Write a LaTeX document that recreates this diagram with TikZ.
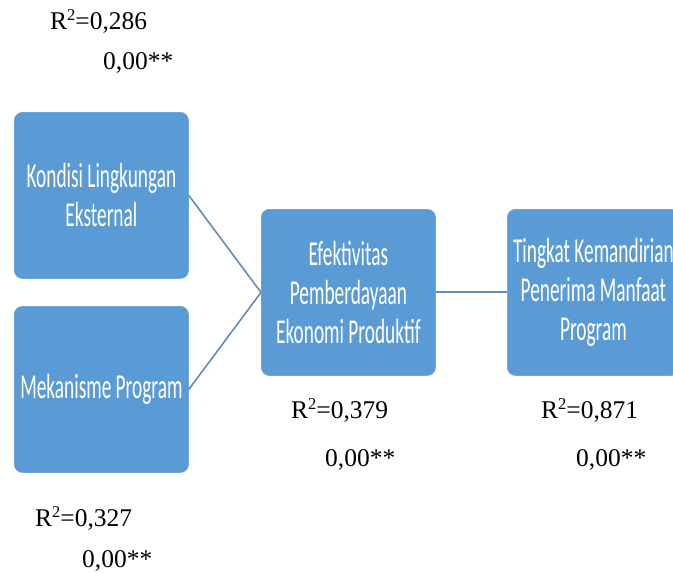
\documentclass[tikz,border=0pt]{standalone}
\usepackage{fontspec}
\setmainfont{Liberation Serif}
\newfontfamily\boxfont[FakeStretch=0.552]{Carlito}
\definecolor{boxblue}{HTML}{5B9BD5}
\definecolor{boxedge}{HTML}{6FA8DC}
\definecolor{linkblue}{HTML}{668BB8}
\newcommand\rsq{R\raisebox{0.32em}{\fontsize{16.5}{16.5}\selectfont 2}}
\begin{document}
\begin{tikzpicture}[x=1pt,y=-1pt,
  varbox/.style={draw=boxedge,line width=0.8pt,fill=boxblue,rounded corners=8pt,
    minimum width=174pt,minimum height=166pt,inner sep=0pt,text=white,align=center,
    font=\boxfont\fontsize{35}{39}\selectfont,anchor=north west},
  link/.style={draw=linkblue,line width=1.6pt},
  stat/.style={anchor=base west,inner sep=0pt,font=\fontsize{25.5}{30}\selectfont}]
\clip (0,0) rectangle (673,573);
\fill[white] (0,0) rectangle (673,573);
\node[varbox] (kle) at (14,112) {Kondisi Lingkungan\\Eksternal};
\node[varbox] (mp) at (14,306) {Mekanisme Program};
\node[varbox] (epe) at (261,209) {Efektivitas\\Pemberdayaan\\Ekonomi Produktif};
\node[varbox,minimum width=172pt] (tkp) at (507,209) {Tingkat Kemandirian\\Penerima Manfaat\\Program};
\draw[link] (kle.east) -- (epe.west);
\draw[link] (mp.east) -- (epe.west);
\draw[link,line width=2pt] (epe.east) -- (tkp.west);
\node[stat] (r1) at (50,29) {\rsq=0,286};
\node[stat] (p1) at (103,69) {0,00**};
\node[stat] (r2) at (291,418) {\rsq=0,379};
\node[stat] (p2) at (325,466) {0,00**};
\node[stat] (r3) at (541,418) {\rsq=0,871};
\node[stat] (p3) at (576,466) {0,00**};
\node[stat] (r4) at (35,526) {\rsq=0,327};
\node[stat] (p4) at (82,567) {0,00**};
\end{tikzpicture}
\end{document}
